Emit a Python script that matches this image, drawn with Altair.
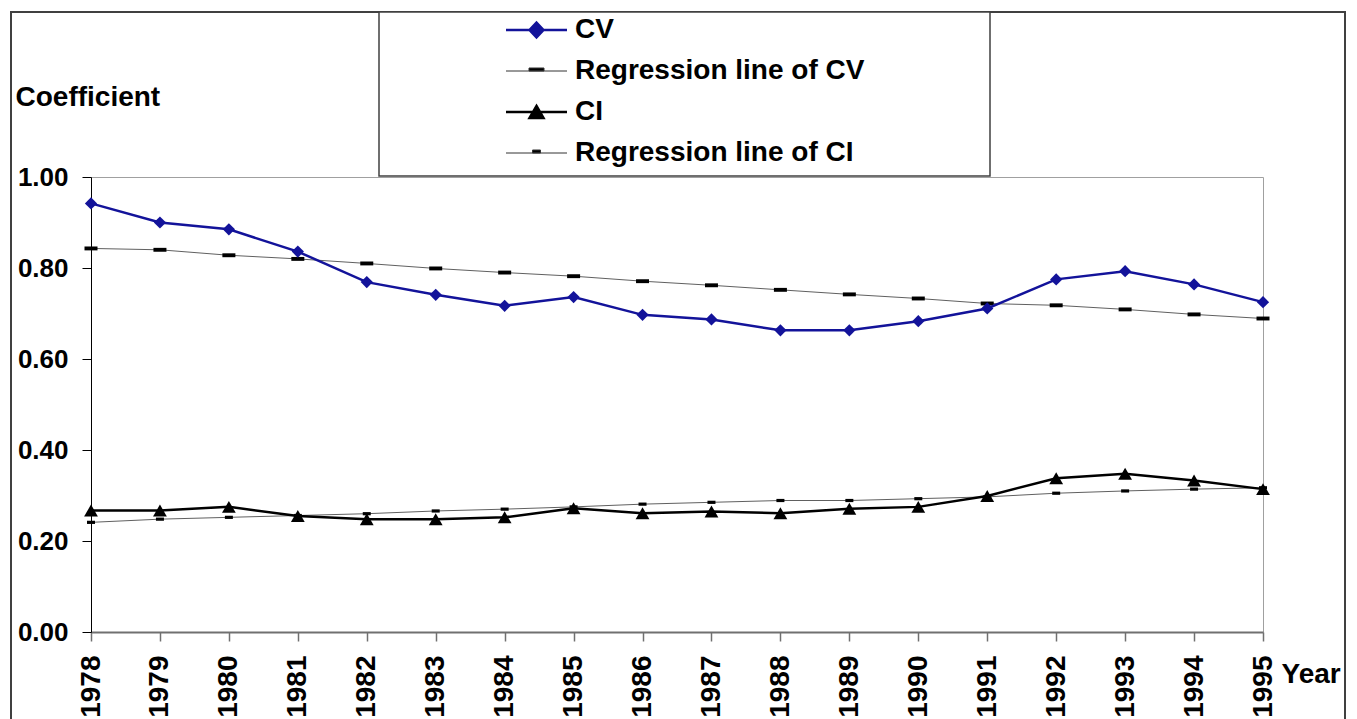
import altair as alt
import pandas as pd

# ---------------- data ----------------
years = list(range(1978, 1996))
cv = [0.942, 0.900, 0.885, 0.836, 0.769, 0.741, 0.717, 0.736, 0.697, 0.687,
      0.663, 0.663, 0.683, 0.711, 0.775, 0.793, 0.764, 0.725]
cv_reg = [0.843, 0.840, 0.828, 0.820, 0.810, 0.799, 0.790, 0.782, 0.771, 0.762,
          0.752, 0.742, 0.733, 0.722, 0.718, 0.709, 0.698, 0.689]
ci = [0.267, 0.267, 0.275, 0.255, 0.248, 0.248, 0.252, 0.272, 0.261, 0.265,
      0.261, 0.271, 0.275, 0.299, 0.338, 0.348, 0.333, 0.314]
ci_reg = [0.241, 0.248, 0.252, 0.256, 0.260, 0.266, 0.270, 0.275, 0.281, 0.285,
          0.289, 0.289, 0.293, 0.297, 0.305, 0.310, 0.314, 0.317]
series_names = ["CV", "Regression line of CV", "CI", "Regression line of CI"]
y_ticks = [0.0, 0.2, 0.4, 0.6, 0.8, 1.0]

rows = []
for name, vals in zip(series_names, [cv, cv_reg, ci, ci_reg]):
    for yr, v in zip(years, vals):
        rows.append({"year": yr, "value": v, "series": name})
df = pd.DataFrame(rows)
df_main = df[df.series.isin(["CV", "CI"])]
df_reg = df[df.series.str.startswith("Regression")]

NAVY = "#13139a"
FONT = "Liberation Sans"

X = alt.X(
    "year:Q",
    scale=alt.Scale(domain=[1978, 1995], nice=False, zero=False),
    axis=alt.Axis(
        values=years, format="d", labelAngle=-90, labelFont=FONT, labelFontSize=28,
        labelFontWeight="bold", labelColor="black", labelPadding=14, labelFlush=False,
        labelOverlap=False, labelBound=False, labelLimit=0,
        tickSize=9, tickColor="#707070", tickWidth=1.5,
        domainColor="#707070", domainWidth=2, grid=False,
        title="Year", titleX=1190, titleY=50, titleAngle=0, titleAlign="left",
        titleBaseline="alphabetic", titleFont=FONT, titleFontSize=28,
        titleFontWeight="bold", titleColor="black",
    ),
)
Y = alt.Y(
    "value:Q",
    scale=alt.Scale(domain=[0, 1], nice=False),
    axis=alt.Axis(
        values=y_ticks, format=".2f", labelFont=FONT, labelFontSize=26,
        labelFontWeight="bold", labelColor="black", labelPadding=14,
        tickSize=9, tickColor="black", tickWidth=1,
        domainColor="black", domainWidth=1, grid=False,
        title="Coefficient", titleX=-76, titleY=-72, titleAngle=0, titleAlign="left",
        titleBaseline="alphabetic", titleFont=FONT, titleFontSize=28,
        titleFontWeight="bold", titleColor="black",
    ),
)

one = pd.DataFrame({"k": [0]})

# outer chart frame (decorative)
frame = alt.Chart(one).mark_rect(fill="white", fillOpacity=0, stroke="#404040", strokeWidth=2).encode(
    x=alt.value(-80), x2=alt.value(1254), y=alt.value(-165), y2=alt.value(620)
)
# legend box (decorative)
legend_box = alt.Chart(one).mark_rect(fill="white", stroke="#404040", strokeWidth=1.5).encode(
    x=alt.value(288), x2=alt.value(899), y=alt.value(-165), y2=alt.value(-1)
)

reg_lines = alt.Chart(df_reg).mark_line(color="#606060", strokeWidth=1).encode(
    x=X, y=Y, detail="series:N"
)
reg_cv_dash = alt.Chart(df_reg[df_reg.series == "Regression line of CV"]).mark_point(
    shape="M-1,-0.3L1,-0.3L1,0.3L-1,0.3Z", filled=True, size=169, color="black", opacity=1
).encode(x=X, y=Y)
reg_ci_dash = alt.Chart(df_reg[df_reg.series == "Regression line of CI"]).mark_point(
    shape="M-1,-0.4L1,-0.4L1,0.4L-1,0.4Z", filled=True, size=64, color="black", opacity=1
).encode(x=X, y=Y)

P_CV = "M-3.05,0L3.05,0M0,-0.75L0.7,0L0,0.75L-0.7,0Z"
P_CI = "M-3.05,0L3.05,0M0,-0.6L0.7,0.6L-0.7,0.6Z"
P_RCV = "M-3.05,0L3.05,0M-0.75,-0.3L0.75,-0.3L0.75,0L-0.75,0Z"
P_RCI = "M-3.05,0L3.05,0M-0.4,-0.3L0.4,-0.3L0.4,0L-0.4,0Z"


def pick(v_cv, v_ci, v_rcv, v_rci):
    def q(v):
        return f"'{v}'" if isinstance(v, str) else str(v)
    return alt.ExprRef(expr=(
        f"datum.value === 'CV' ? {q(v_cv)} : datum.value === 'CI' ? {q(v_ci)} : "
        f"datum.value === 'Regression line of CV' ? {q(v_rcv)} : {q(v_rci)}"
    ))


legend = alt.Legend(
    title=None, orient="none", legendX=431.5, legendY=-161, padding=0,
    symbolSize=400, labelOffset=24.5, symbolOffset=0,
    symbolType=pick(P_CV, P_CI, P_RCV, P_RCI),
    symbolFillColor=pick(NAVY, "black", "black", "black"),
    symbolStrokeColor=pick(NAVY, "black", "#333333", "#333333"),
    symbolStrokeWidth=pick(2.5, 2.5, 1, 1),
    symbolOpacity=1,
    labelFont=FONT, labelFontSize=28, labelFontWeight="bold", labelColor="black",
    labelLimit=0, rowPadding=13,
)

main_lines = alt.Chart(df_main).mark_line(strokeWidth=2.5).encode(
    x=X, y=Y,
    color=alt.Color("series:N",
                    scale=alt.Scale(domain=series_names, range=[NAVY, "#333333", "black", "#333333"]),
                    legend=legend),
)
cv_pts = alt.Chart(df_main[df_main.series == "CV"]).mark_point(
    shape="diamond", filled=True, size=150, color=NAVY, opacity=1
).encode(x=X, y=Y)
ci_pts = alt.Chart(df_main[df_main.series == "CI"]).mark_point(
    shape="triangle-up", filled=True, size=190, color="black", opacity=1
).encode(x=X, y=Y)

chart = alt.layer(
    frame, legend_box, reg_lines, reg_cv_dash, reg_ci_dash, main_lines, cv_pts, ci_pts
).properties(
    width=1172, height=455,
    autosize=alt.AutoSizeParams(type="none"),
    padding={"left": 83, "top": 169, "right": 84, "bottom": 87},
    background="white",
).configure_view(stroke="#a0a0a0", strokeWidth=1)

chart.save("out.html", embed_options={"renderer": "svg", "actions": False})
